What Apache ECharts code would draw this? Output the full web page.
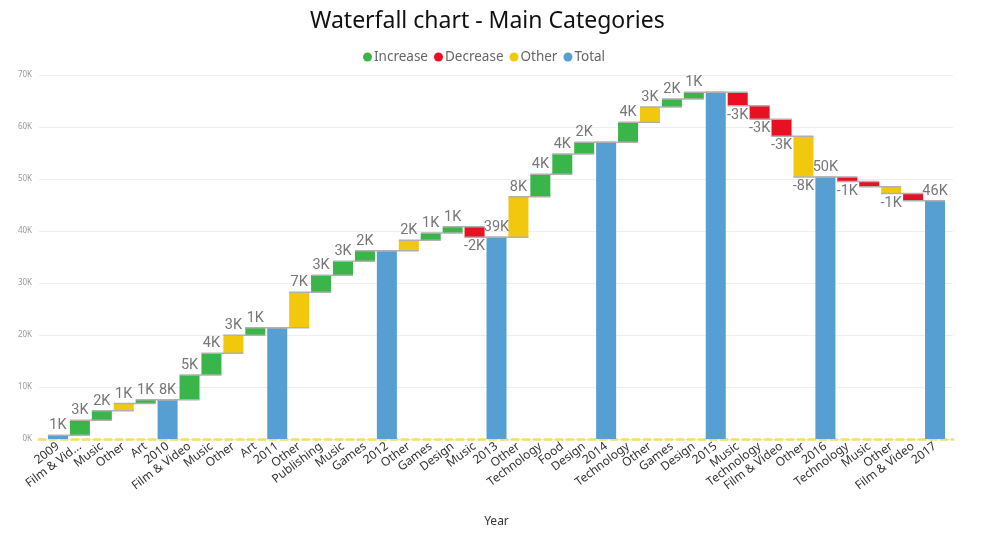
<!DOCTYPE html>
<html>
<head>
<meta charset="utf-8">
<script src="https://cdn.jsdelivr.net/npm/echarts@6/dist/echarts.min.js"></script>
<style>html,body{margin:0;padding:0;background:#fff;}#c{width:986px;height:533px;}</style>
</head>
<body>
<div id="c"></div>
<script>
// Categories (x axis)
const categories = ['2009','Film & Vid...','Music','Other','Art','2010','Film & Video','Music','Other','Art','2011','Other','Publishing','Music','Games','2012','Other','Games','Design','Music','2013','Other','Technology','Food','Design','2014','Technology','Other','Games','Design','2015','Music','Technology','Film & Video','Other','2016','Technology','Music','Other','Film & Video','2017'];
// Kind of each bar
const kinds = ['total','inc','inc','other','inc','total','inc','inc','other','inc','total','other','inc','inc','inc','total','other','inc','inc','dec','total','other','inc','inc','inc','total','inc','other','inc','inc','total','dec','dec','dec','other','total','dec','dec','other','dec','total'];
// Change for step bars, running total for total bars
const values = [700,2900,1850,1400,700,7550,4750,4200,3450,1450,21400,6800,3300,2700,2000,36200,2000,1400,1200,-2000,38800,7800,4300,3900,2250,57050,3850,2950,1550,1300,66700,-2600,-2600,-3300,-7800,50400,-900,-1000,-1300,-1400,45800];
// Bars whose data label is not shown
const hiddenLabels = [10,15,25,30,37,39];
// Y axis ticks
const yMin = 0, yMax = 70000, yStep = 10000;

const seriesNames = {inc:'Increase', dec:'Decrease', other:'Other', total:'Total'};
const colors = {inc:'#3AB54A', dec:'#E81123', other:'#F2C80F', total:'#559FD3'};

// running totals
const base = [], ends = [], heights = [];
let run = 0;
for (let i = 0; i < values.length; i++) {
  if (kinds[i] === 'total') {
    run = values[i];
    base.push(0); heights.push(values[i]);
  } else {
    const start = run; run = run + values[i];
    base.push(Math.min(start, run)); heights.push(Math.abs(values[i]));
  }
  ends.push(run);
}

function fmtK(v){ return Math.round(v/1000) + 'K'; }

const visSeries = ['inc','dec','other','total'].map(k => ({
  name: seriesNames[k],
  type: 'bar',
  stack: 'wf',
  xAxisIndex: 1, yAxisIndex: 1,
  barWidth: 20,
  itemStyle: {color: colors[k]},
  data: heights.map((h, i) => {
    if (kinds[i] !== k) return '-';
    const neg = kinds[i] !== 'total' && values[i] < 0;
    return {
      value: h,
      label: {
        show: hiddenLabels.indexOf(i) < 0,
        position: neg ? 'bottom' : 'top',
        distance: 2
      }
    };
  }),
  label: {
    color: '#777', fontSize: 14.5, fontFamily: 'Roboto',
    formatter: p => fmtK(values[p.dataIndex])
  },
  z: 3
}));

const chart = echarts.init(document.getElementById('c'), null, {renderer:'canvas'});
chart.setOption({
  animation: false,
  title: {
    text: 'Waterfall chart - Main Categories',
    left: 305, top: 5,
    textStyle: {fontSize: 23, fontWeight: 'normal', color: '#111', fontFamily: 'Noto Sans'}
  },
  legend: {
    data: ['Increase','Decrease','Other','Total'],
    top: 45, left: 358,
    icon: 'circle', itemWidth: 9, itemHeight: 9, itemGap: 6,
    textStyle: {color: '#666', fontSize: 13.5, fontFamily: 'Noto Sans', padding: [0,0,0,-3]}
  },
  grid: [
    {left: 39, right: 33, top: 75, bottom: 94},
    {left: 47, width: 899, top: 75, bottom: 94}
  ],
  xAxis: [
    {
      gridIndex: 0, type: 'value', min: 0, max: 1,
      axisLabel: {show: false}, axisTick: {show: false}, splitLine: {show: false},
      axisLine: {show: true, lineStyle: {color: 'rgba(242,200,15,0.5)', width: 3, type: [6,5]}}
    },
    {
      gridIndex: 1, type: 'category', data: categories,
      axisLine: {show: false}, axisTick: {show: false},
      axisLabel: {interval: 0, rotate: 37, margin: 6, color: '#333', fontSize: 12, fontFamily: 'Noto Sans'},
      name: 'Year', nameLocation: 'middle', nameGap: 77,
      nameTextStyle: {color: '#333', fontSize: 12, fontFamily: 'Noto Sans'}
    }
  ],
  yAxis: [
    {
      gridIndex: 0, type: 'value', min: yMin, max: yMax, interval: yStep,
      axisLine: {show: false}, axisTick: {show: false},
      axisLabel: {color: '#999', fontSize: 8, margin: 7, fontFamily: 'Noto Sans', formatter: v => (v/1000) + 'K'},
      splitLine: {lineStyle: {color: '#eeeeee', width: 1}}
    },
    {
      gridIndex: 1, type: 'value', min: yMin, max: yMax, interval: yStep,
      axisLine: {show: false}, axisTick: {show: false}, axisLabel: {show: false}, splitLine: {show: false}
    }
  ],
  series: [
    {
      name: 'base', type: 'bar', stack: 'wf', xAxisIndex: 1, yAxisIndex: 1,
      barWidth: 20, silent: true,
      itemStyle: {color: 'transparent'},
      data: base
    }
  ].concat(visSeries).concat([
    {
      name: 'connector', type: 'custom', xAxisIndex: 1, yAxisIndex: 1, silent: true, z: 4,
      data: ends.slice(0, ends.length - 1).map((v, i) => [i, v]),
      encode: {x: 0, y: 1},
      renderItem: function(params, api) {
        const p = api.coord([api.value(0), api.value(1)]);
        const band = api.size([1, 0])[0];
        return {
          type: 'line',
          shape: {x1: p[0] - 10, y1: p[1], x2: p[0] + band + 10, y2: p[1]},
          style: {stroke: '#b0b0b0', lineWidth: 1.5}
        };
      }
    }
  ])
});
</script>
</body>
</html>
